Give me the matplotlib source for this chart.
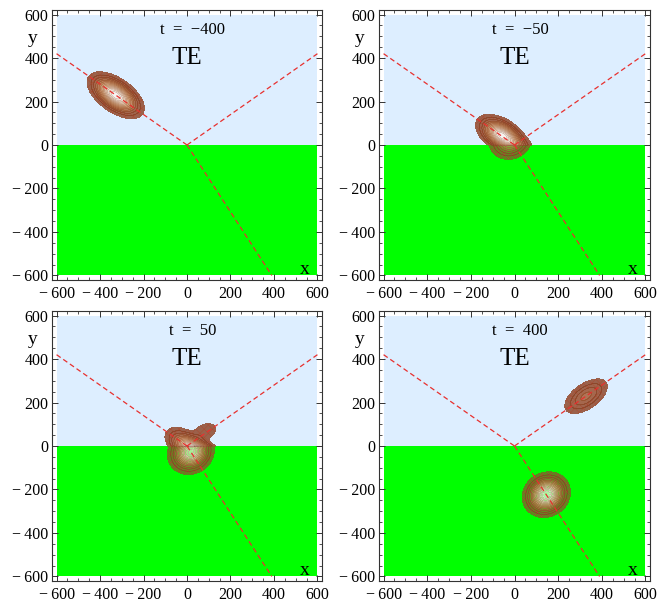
import numpy as np
import matplotlib
matplotlib.use('Agg')
import matplotlib.pyplot as plt
from matplotlib.patches import Rectangle
from matplotlib.colors import LinearSegmentedColormap
from matplotlib.ticker import MultipleLocator, FuncFormatter

plt.rcParams['font.family'] = ['Liberation Serif', 'DejaVu Serif']
plt.rcParams['hatch.color'] = '#ac4a30'
plt.rcParams['hatch.linewidth'] = 0.35

# ---------------- data ----------------
times = [-400, -50, 50, 400]
panel_titles = ['t\u2002=\u2002\u2212400', 't\u2002=\u2002\u221250',
                't\u2002=\u200250', 't\u2002=\u2002400']
mode_label = 'TE'

# wave-packet centres (x, y) in each panel
incident_centers = [(-328, 229), (-41, 29), (41, -29), (328, -229)]
reflected_centers = [(-328, -229), (-41, -29), (41, 29), (328, 229)]
transmitted_centers = [(-146, 224), (-18, 28), (18, -28), (146, -224)]

# propagation directions (degrees from +x) and widths (along, across)
incident_angle = -35.0
reflected_angle = 35.0
transmitted_angle = -56.9
incident_widths = (130, 67)
reflected_widths = (130, 67)
transmitted_widths = (87, 98)

reflection_coeff = -0.37
transmission_coeff = 0.685
cross_coeff = -0.5
n_levels = 15

# ray paths (dashed)
incident_ray = ([-600, 0], [420, 0])
reflected_ray = ([0, 600], [0, 420])
transmitted_ray = ([0, 390], [0, -600])

xmin, xmax, ymin, ymax = -600, 600, -600, 600

# ---------------- figure ----------------
W, H = 668, 602
fig = plt.figure(figsize=(W / 100, H / 100), dpi=100)

frames = [(52, 10, 270, 270), (379, 10, 271, 270),
          (52, 311, 270, 270), (379, 311, 271, 270)]

cmap = LinearSegmentedColormap.from_list(
    'beam', [(0.0, '#8e482c'), (0.18, '#9c5130'), (0.35, '#bb7649'),
             (0.55, '#d8a67b'), (0.78, '#efd6c0'), (1.0, '#fffcf9')])

gx = np.linspace(xmin, xmax, 721)
gy = np.linspace(ymin, ymax, 721)
X, Y = np.meshgrid(gx, gy)


def packet(c, ang, w):
    a = np.deg2rad(ang)
    dx, dy = X - c[0], Y - c[1]
    u = dx * np.cos(a) + dy * np.sin(a)
    v = -dx * np.sin(a) + dy * np.cos(a)
    return np.exp(-(u / w[0]) ** 2 - (v / w[1]) ** 2)


def fmt(v, pos):
    v = int(round(v))
    return ('\u2212\u2009%d' % -v) if v < 0 else '%d' % v


pad = 21
for k in range(4):
    fx, fy, fw, fh = frames[k]
    ax = fig.add_axes([fx / W, 1 - (fy + fh) / H, fw / W, fh / H])
    ax.set_xlim(xmin - pad, xmax + pad)
    ax.set_ylim(ymin - pad, ymax + pad)
    ax.set_facecolor('white')

    ax.add_patch(Rectangle((xmin, 0), xmax - xmin, ymax, facecolor='#ddeeff',
                           edgecolor='none', zorder=0))
    ax.add_patch(Rectangle((xmin, ymin), xmax - xmin, -ymin, facecolor='#00ff00',
                           edgecolor='none', zorder=0))

    Gi = packet(incident_centers[k], incident_angle, incident_widths)
    Gr = packet(reflected_centers[k], reflected_angle, reflected_widths)
    Gt = packet(transmitted_centers[k], transmitted_angle, transmitted_widths)
    upper = Gi ** 2 + (reflection_coeff * Gr) ** 2 + cross_coeff * Gi * Gr
    lower = (transmission_coeff * Gt) ** 2
    I = np.where(Y >= 0, upper, lower)
    I = I / I.max()
    levels = np.arange(1, n_levels + 1) / n_levels
    levels[-1] = 1.0001

    Iu = np.ma.masked_where(Y < 0, I)
    Il = np.ma.masked_where(Y > 0, I)
    ax.contourf(X, Y, Iu, levels=levels, cmap=cmap, alpha=0.86, zorder=1)
    ax.contourf(X, Y, Il, levels=levels, cmap=cmap, alpha=0.68, zorder=1)
    ax.contourf(X, Y, I, levels=levels[:3], colors='none',
                hatches=['xxxx'], zorder=1.5)
    ax.contour(X, Y, I, levels=levels[1:-1], colors='#6e3016',
               linewidths=0.35, alpha=0.5, zorder=2)

    for rx, ry in (incident_ray, reflected_ray, transmitted_ray):
        ax.plot(rx, ry, color='#e8302e', lw=0.9, dashes=(4, 2.5), zorder=3)

    ax.text(25, 528, panel_titles[k], ha='center', va='center', fontsize=12, zorder=4)
    ax.text(0, 400, mode_label, ha='center', va='center', fontsize=18, zorder=4)
    ax.text(0.937, 0.04, 'x', transform=ax.transAxes, ha='center', va='center',
            fontsize=14, zorder=4)
    ax.text(-0.07, 0.896, 'y', transform=ax.transAxes, ha='center', va='center',
            fontsize=14, zorder=4)

    ax.xaxis.set_major_locator(MultipleLocator(200))
    ax.yaxis.set_major_locator(MultipleLocator(200))
    ax.xaxis.set_minor_locator(MultipleLocator(50))
    ax.yaxis.set_minor_locator(MultipleLocator(50))
    ax.xaxis.set_major_formatter(FuncFormatter(fmt))
    ax.yaxis.set_major_formatter(FuncFormatter(fmt))
    ax.tick_params(which='both', direction='in', top=True, right=True,
                   color='#333333')
    ax.tick_params(which='major', length=4, width=0.7, labelsize=11.5)
    ax.tick_params(which='minor', length=2.2, width=0.6)
    ax.tick_params(axis='x', which='major', pad=4)
    ax.tick_params(axis='y', which='major', pad=2.5)
    for s in ax.spines.values():
        s.set_linewidth(0.8)
        s.set_color('#333333')

fig.savefig('out.png', dpi=100)
